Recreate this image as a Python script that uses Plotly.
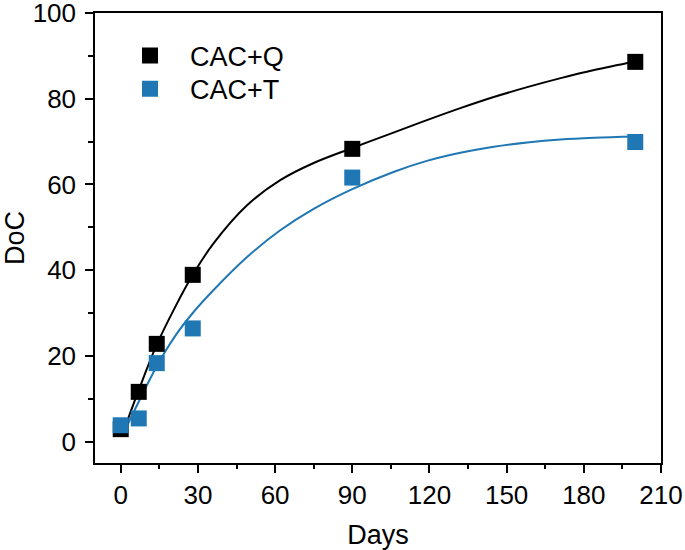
import plotly.graph_objects as go

# Measured data
days = [0, 7, 14, 28, 90, 200]
cac_q = [2.9, 11.6, 22.8, 38.9, 68.3, 88.6]
cac_t = [3.8, 5.4, 18.3, 26.4, 61.6, 69.9]

# Fitted curves
fit_q_days = [0.6, 7, 14, 21, 28, 36, 49, 62, 75, 90, 106, 119, 132, 145, 158, 171, 184, 200]
fit_q_vals = [1.6, 12.0, 22.6, 31.2, 38.9, 46.2, 55.1, 61.0, 65.0, 68.5, 72.1, 75.0, 77.8, 80.4, 82.7, 84.8, 86.7, 88.7]
fit_t_days = [0.5, 7, 14, 21, 28, 36, 49, 62, 75, 90, 106, 119, 132, 145, 158, 171, 184, 200]
fit_t_vals = [1.3, 9.3, 17.6, 24.5, 30.0, 35.3, 43.0, 49.3, 54.3, 58.9, 62.9, 65.5, 67.4, 68.8, 69.8, 70.5, 70.9, 71.2]

x_ticks = [0, 30, 60, 90, 120, 150, 180, 210]
y_ticks = [0, 20, 40, 60, 80, 100]

BLACK = "#000000"
BLUE = "#1f77b4"
FONT = "Liberation Sans, Arial, sans-serif"

fig = go.Figure()
fig.add_trace(go.Scatter(x=fit_q_days, y=fit_q_vals, mode="lines", line=dict(color=BLACK, width=2, shape="spline"),
                         showlegend=False, hoverinfo="skip"))
fig.add_trace(go.Scatter(x=fit_t_days, y=fit_t_vals, mode="lines", line=dict(color=BLUE, width=2, shape="spline"),
                         showlegend=False, hoverinfo="skip"))
fig.add_trace(go.Scatter(x=days, y=cac_q, mode="markers", name="CAC+Q", legend="legend",
                         marker=dict(symbol="square", size=16, color=BLACK)))
fig.add_trace(go.Scatter(x=days, y=cac_t, mode="markers", name="CAC+T", legend="legend2",
                         marker=dict(symbol="square", size=16, color=BLUE)))

axis_common = dict(showline=True, linecolor="black", linewidth=1.5, mirror=True,
                   ticks="outside", ticklen=8, tickwidth=1.5, tickcolor="black",
                   showgrid=False, zeroline=False, ticklabeloverflow="allow",
                   tickfont=dict(family=FONT, size=26, color="black"))

fig.update_xaxes(range=[-10, 210], tickvals=x_ticks,
                 minor=dict(ticks="outside", ticklen=4, tickwidth=1.5, tickcolor="black", dtick=15, tick0=0),
                 title=dict(text="Days", font=dict(family=FONT, size=27, color="black"), standoff=18),
                 **axis_common)
fig.update_yaxes(range=[-5, 100], tickvals=y_ticks, ticklabelstandoff=4,
                 minor=dict(ticks="outside", ticklen=5, tickwidth=1.5, tickcolor="black", dtick=10, tick0=0),
                 title=dict(text="DoC", font=dict(family=FONT, size=27, color="black"), standoff=22),
                 **axis_common)

legend_common = dict(xanchor="left", yanchor="middle", itemwidth=70,
                     font=dict(family=FONT, size=27, color="black"),
                     bgcolor="rgba(0,0,0,0)", borderwidth=0)

fig.update_layout(
    width=685, height=550,
    margin=dict(l=95, r=24, t=13, b=87, autoexpand=False),
    paper_bgcolor="white", plot_bgcolor="white",
    font=dict(family=FONT, color="black"),
    legend=dict(x=0.0265, y=0.9044, **legend_common),
    legend2=dict(x=0.0265, y=0.8304, **legend_common),
)

fig.write_html("out.html", config={"displayModeBar": False},
               post_script="document.body.style.margin='0';")
